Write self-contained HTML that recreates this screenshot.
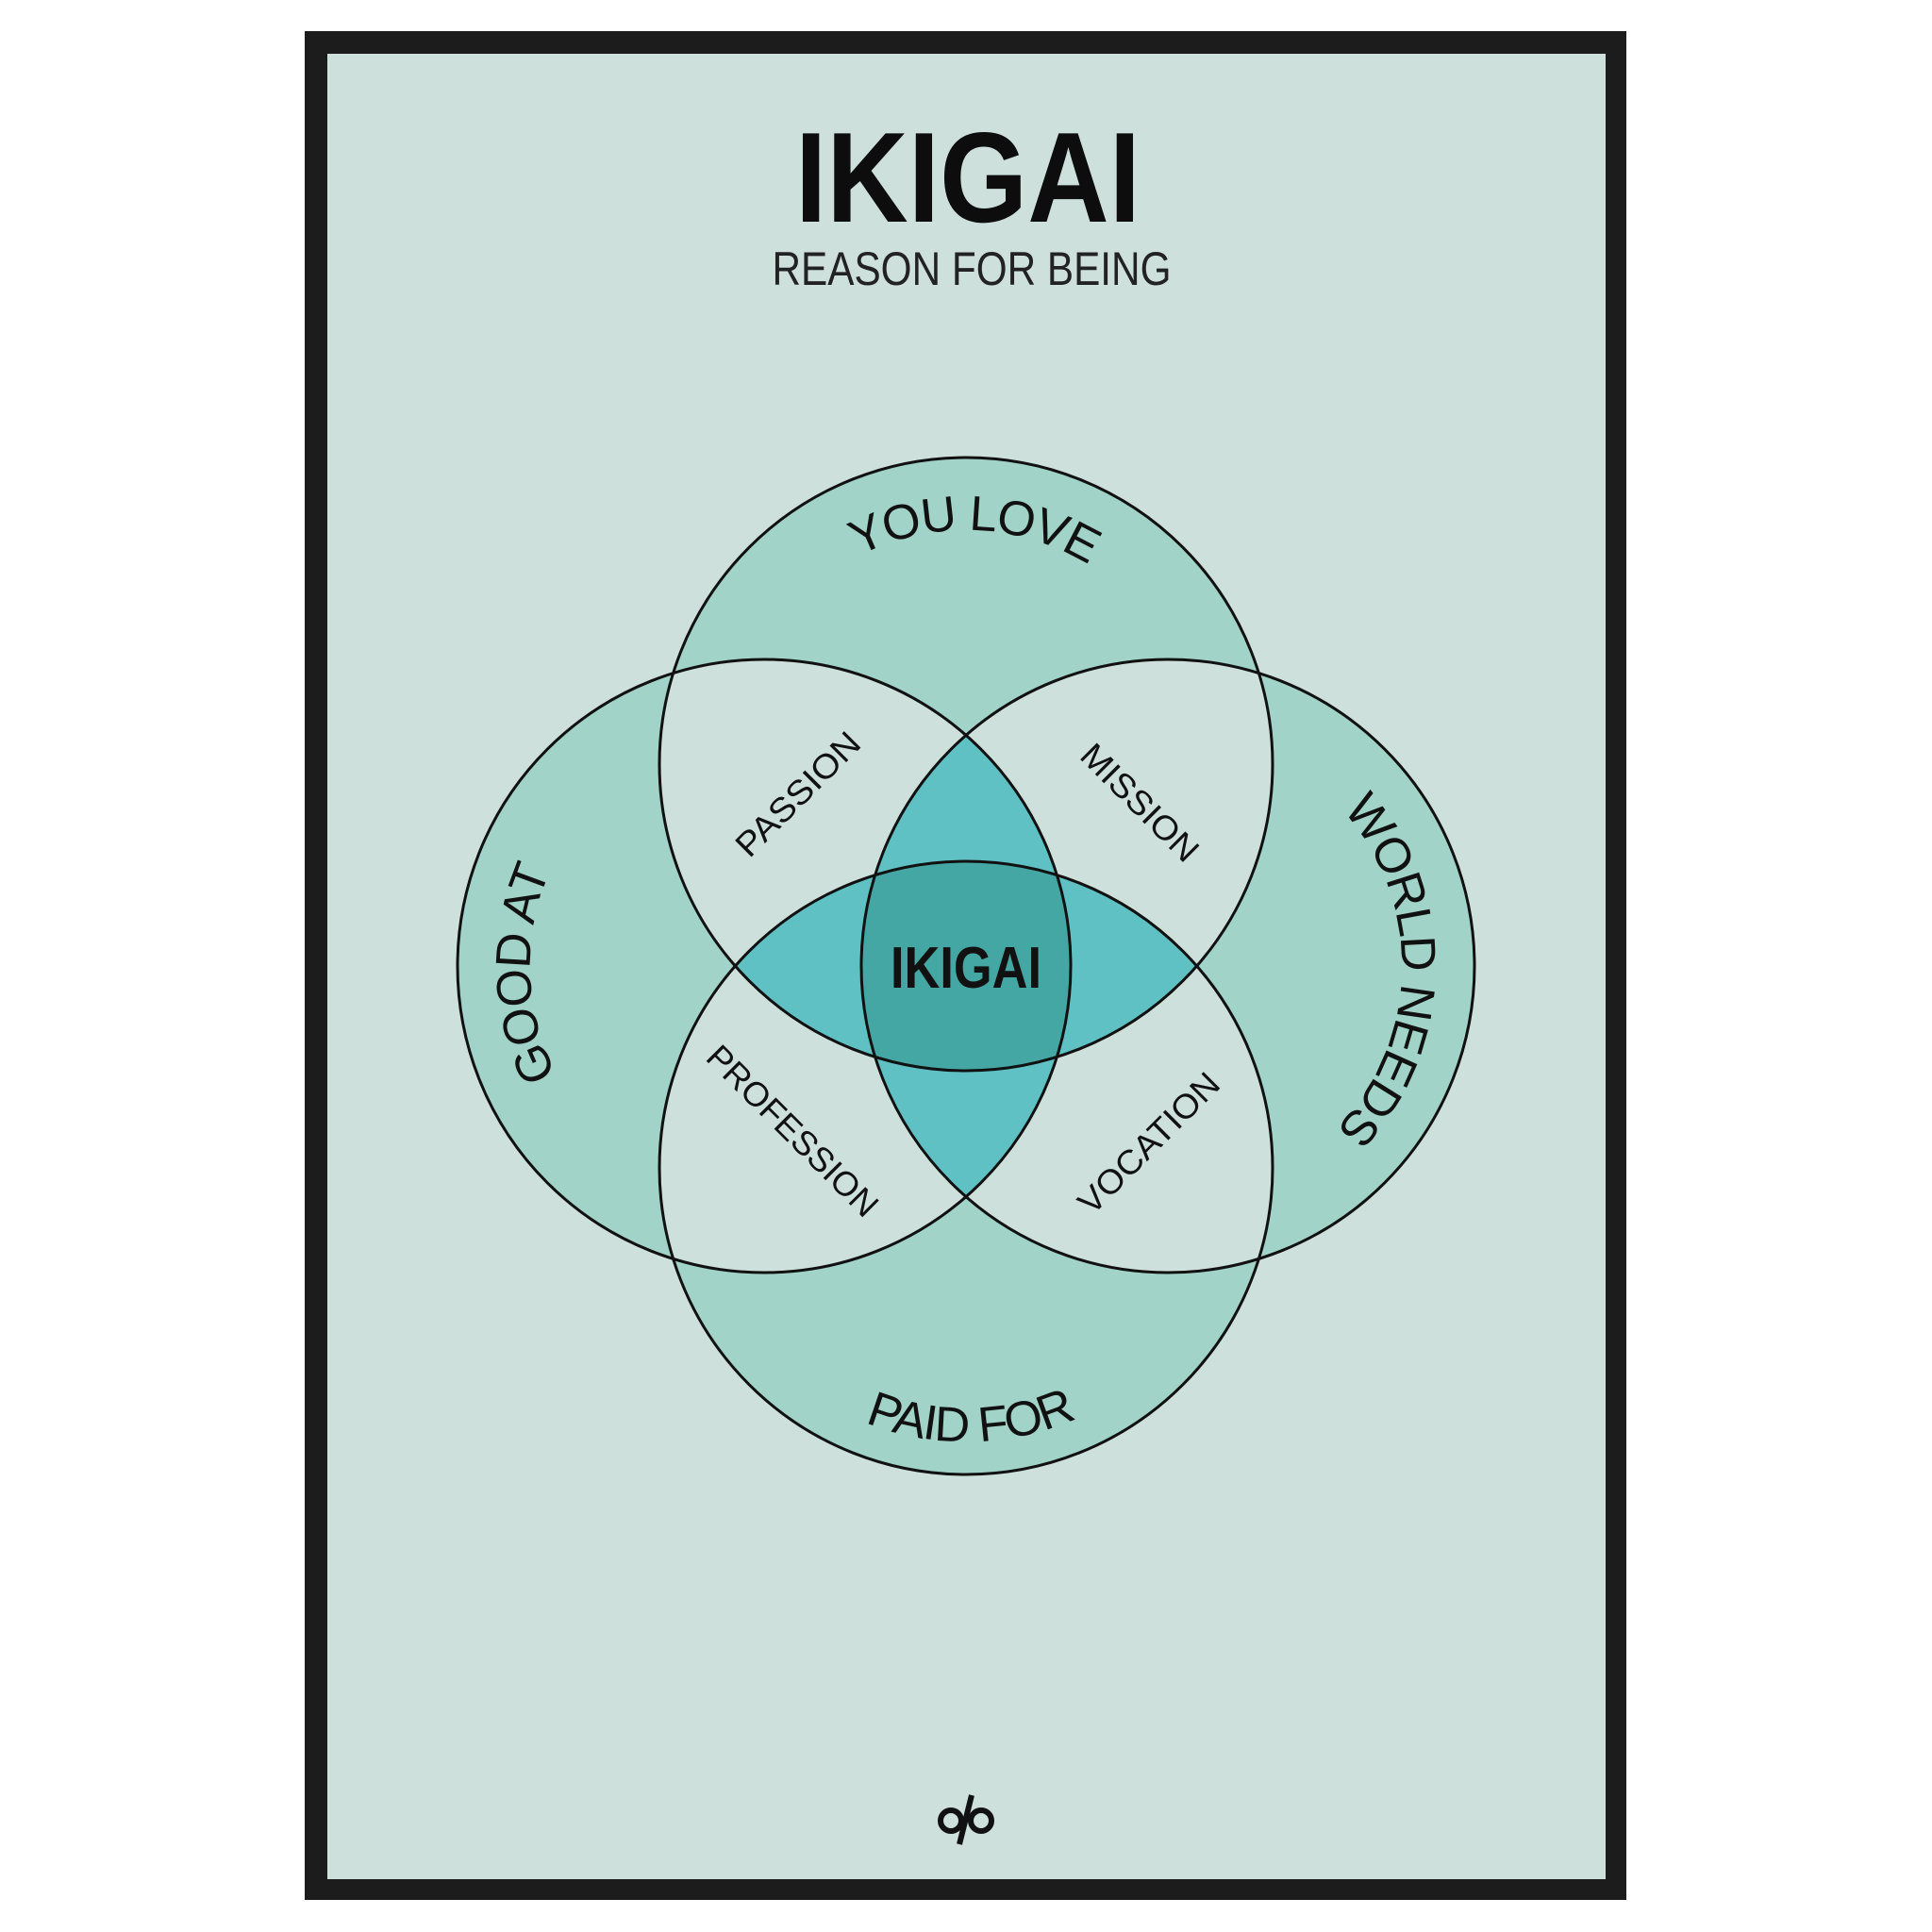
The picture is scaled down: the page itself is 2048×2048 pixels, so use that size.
<!DOCTYPE html>
<html><head><meta charset="utf-8"><style>html,body{margin:0;padding:0;background:#fff}svg{display:block}</style></head>
<body>
<svg width="2048" height="2048" viewBox="0 0 2048 2048" xmlns="http://www.w3.org/2000/svg" font-family="'Liberation Sans', sans-serif">
<defs>
<clipPath id="cT"><circle cx="1024" cy="810" r="325"/></clipPath>
<clipPath id="cL"><circle cx="810" cy="1024" r="325"/></clipPath>
<clipPath id="cR"><circle cx="1238" cy="1024" r="325"/></clipPath>
<clipPath id="cB"><circle cx="1024" cy="1238" r="325"/></clipPath>
<path id="pT" d="M781.4,758.4 A248,248 0 0 1 1269.6,775.5"/>
<path id="pL" d="M775.5,1269.6 A248,248 0 0 1 758.4,781.4"/>
<path id="pR" d="M1285.3,780.5 A248,248 0 0 1 1276.8,1268.9"/>
<path id="pB" d="M739.3,1293.3 A290,290 0 0 0 1310.5,1283.4"/>
</defs>
<rect x="323" y="33" width="1401" height="1981" fill="#1c1c1c"/>
<rect x="347" y="57" width="1355" height="1935" fill="#cde0dc"/>
<text x="1026" y="235" font-size="136" font-weight="bold" text-anchor="middle" textLength="366" lengthAdjust="spacingAndGlyphs" fill="#0d0d0d">IKIGAI</text>
<text x="1030" y="302" font-size="50" text-anchor="middle" textLength="423" lengthAdjust="spacingAndGlyphs" fill="#222">REASON FOR BEING</text>
<g fill="#a1d3c8">
<circle cx="1024" cy="810" r="325"/><circle cx="810" cy="1024" r="325"/><circle cx="1238" cy="1024" r="325"/><circle cx="1024" cy="1238" r="325"/>
</g>
<g fill="#cde0dc">
<circle cx="1024" cy="810" r="325" clip-path="url(#cL)"/>
<circle cx="1024" cy="810" r="325" clip-path="url(#cR)"/>
<circle cx="1024" cy="1238" r="325" clip-path="url(#cL)"/>
<circle cx="1024" cy="1238" r="325" clip-path="url(#cR)"/>
</g>
<g fill="#5fc1c4">
<circle cx="1024" cy="810" r="325" clip-path="url(#cB)"/>
<circle cx="810" cy="1024" r="325" clip-path="url(#cR)"/>
</g>
<g clip-path="url(#cL)"><g clip-path="url(#cR)"><circle cx="1024" cy="810" r="325" clip-path="url(#cB)" fill="#45a7a4"/></g></g>
<g fill="none" stroke="#111" stroke-width="3">
<circle cx="1024" cy="810" r="325"/><circle cx="810" cy="1024" r="325"/><circle cx="1238" cy="1024" r="325"/><circle cx="1024" cy="1238" r="325"/>
</g>
<g font-size="52" fill="#111" letter-spacing="-1.5">
<text text-anchor="middle"><textPath href="#pT" startOffset="50%">YOU LOVE</textPath></text>
<text text-anchor="middle"><textPath href="#pL" startOffset="50%">GOOD AT</textPath></text>
<text text-anchor="middle"><textPath href="#pR" startOffset="50%">WORLD NEEDS</textPath></text>
<text text-anchor="middle"><textPath href="#pB" startOffset="50%">PAID FOR</textPath></text>
</g>
<g font-size="36" fill="#111" text-anchor="middle">
<text transform="translate(846,842) rotate(-45)" y="12" textLength="170" lengthAdjust="spacingAndGlyphs">PASSION</text>
<text transform="translate(1208,851) rotate(45)" y="12" textLength="160" lengthAdjust="spacingAndGlyphs">MISSION</text>
<text transform="translate(840,1199) rotate(45)" y="12" textLength="240" lengthAdjust="spacingAndGlyphs">PROFESSION</text>
<text transform="translate(1218,1212) rotate(-45)" y="12" textLength="195" lengthAdjust="spacingAndGlyphs">VOCATION</text>
</g>
<text x="1024" y="1047" font-size="62" font-weight="bold" text-anchor="middle" textLength="160" lengthAdjust="spacingAndGlyphs" fill="#111">IKIGAI</text>
<g fill="none" stroke="#111" stroke-width="6">
<circle cx="1008" cy="1930" r="11"/><circle cx="1040" cy="1930" r="11"/>
<line x1="1030" y1="1903" x2="1017" y2="1955"/>
</g>
</svg>
</body></html>
